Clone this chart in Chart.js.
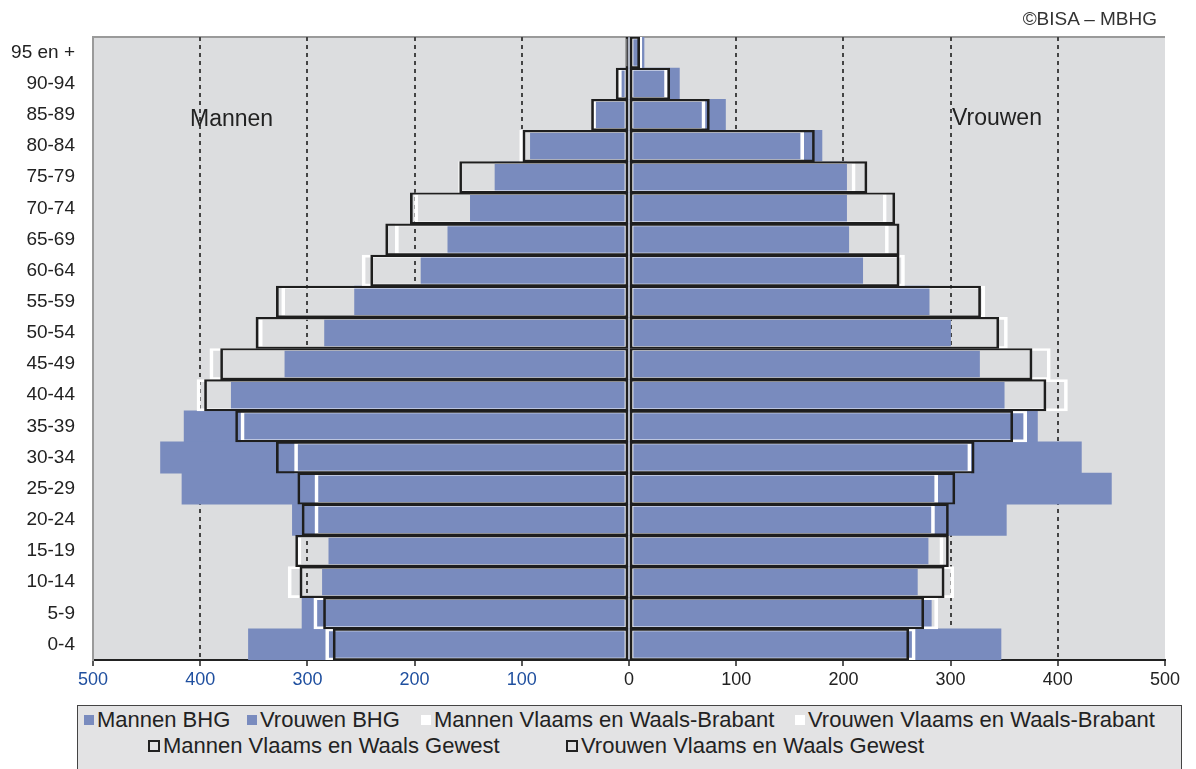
<!DOCTYPE html>
<html>
<head>
<meta charset="utf-8">
<title>Leeftijdspiramide</title>
<script src="https://cdn.jsdelivr.net/npm/chart.js@4.4.1/dist/chart.umd.min.js"></script>
<style>
  body { margin: 0; background: #fff; font-family: 'Liberation Sans', Arial, sans-serif; color: #222; }
  #wrap { position: relative; width: 1196px; height: 769px; overflow: hidden; }
  #chartBox { position: absolute; left: 0; top: 0; width: 1196px; height: 769px; }
  .note { position: absolute; white-space: nowrap; line-height: 1; }
  #legend { position: absolute; left: 77px; top: 705px; width: 1103px; height: 80px;
            border: 1px solid #444; background: #e3e3e4; }
  .item { position: absolute; display: flex; align-items: center; font-size: 22px;
          line-height: 22px; white-space: nowrap; color: #222; }
  .swatch { width: 10px; height: 10px; margin-right: 3px; box-sizing: border-box; }
</style>
</head>
<body>
<div id="wrap">
  <div id="chartBox"><canvas id="chart"></canvas></div>
  <div class="note" style="right:39px; top:9px; font-size:19px; color:#333;">©BISA – MBHG</div>
  <div class="note" style="left:190px; top:107px; font-size:23px;">Mannen</div>
  <div class="note" style="left:952px; top:106px; font-size:23px;">Vrouwen</div>
  <div id="legend"></div>
</div>

<script>
/////////////////////
//      Data       //
/////////////////////
const AGE_GROUPS = ['95 en +', '90-94', '85-89', '80-84', '75-79', '70-74', '65-69', '60-64',
  '55-59', '50-54', '45-49', '40-44', '35-39', '30-34', '25-29', '20-24', '15-19', '10-14', '5-9', '0-4'];

// Brussels Hoofdstedelijk Gewest (filled bars)
const MEN_BHG      = [1, 8, 32, 92, 125, 148, 169, 194, 256, 284, 321, 371, 415, 437, 417, 314, 280, 286, 305, 355];
const WOMEN_BHG    = [14, 47, 90, 180, 203, 203, 205, 218, 280, 300, 327, 350, 381, 422, 450, 352, 279, 269, 282, 347];
// Vlaams en Waals-Brabant (white outline)
const MEN_BRABANT   = [2, 10, 34, 102, 159, 200, 218, 249, 324, 345, 391, 403, 362, 312, 293, 293, 309, 318, 294, 283];
const WOMEN_BRABANT = [12, 36, 71, 163, 211, 240, 242, 257, 332, 353, 393, 409, 371, 319, 288, 285, 293, 303, 288, 267];
// Vlaams en Waals Gewest (black outline)
const MEN_GEWEST   = [3, 12, 35, 99, 158, 204, 227, 241, 329, 348, 381, 396, 367, 329, 309, 305, 311, 307, 285, 276];
const WOMEN_GEWEST = [10, 38, 75, 173, 222, 248, 252, 252, 328, 345, 376, 389, 358, 322, 304, 298, 298, 294, 275, 261];

const X_TICKS_DASHED = [100, 200, 300, 400];


/////////////////////
//    Constants    //
/////////////////////
const BLUE = '#798bbe';
const PLOT_BG = '#dcdddf';
const FONT = "'Liberation Sans', Arial, sans-serif";

Chart.defaults.font.family = FONT;
Chart.defaults.color = '#222';

const neg = (arr) => arr.map(v => -v);


////////////////////////////
//    Plot background     //
////////////////////////////
const plotBackground = {
  id: 'plotBackground',
  beforeDraw(chart) {
    const { ctx, chartArea: a } = chart;
    ctx.save();
    ctx.fillStyle = PLOT_BG;
    ctx.fillRect(a.left, a.top, a.right - a.left, a.bottom - a.top);
    ctx.strokeStyle = '#9a9a9a';
    ctx.lineWidth = 2;
    ctx.beginPath();
    ctx.moveTo(a.left, a.top);
    ctx.lineTo(a.right, a.top);
    ctx.stroke();
    ctx.restore();
  }
};


///////////////////////
//    Main Script    //
///////////////////////
const common = { grouped: false, categoryPercentage: 1.0, barPercentage: 1.0 };
const whiteBorder = { top: 2, bottom: 2, left: 3, right: 3 };
const blackBorder = { top: 1.5, bottom: 1.5, left: 2, right: 2 };

const datasets = [
  { ...common, label: 'Mannen BHG', data: neg(MEN_BHG), backgroundColor: BLUE, borderWidth: 0, order: 3 },
  { ...common, label: 'Vrouwen BHG', data: WOMEN_BHG, backgroundColor: BLUE, borderWidth: 0, order: 3 },
  { ...common, label: 'Mannen Vlaams en Waals-Brabant', data: neg(MEN_BRABANT), backgroundColor: 'rgba(0,0,0,0)',
    borderColor: '#ffffff', borderWidth: whiteBorder, borderSkipped: false, order: 2 },
  { ...common, label: 'Vrouwen Vlaams en Waals-Brabant', data: WOMEN_BRABANT, backgroundColor: 'rgba(0,0,0,0)',
    borderColor: '#ffffff', borderWidth: whiteBorder, borderSkipped: false, order: 2 },
  { ...common, label: 'Mannen Vlaams en Waals Gewest', data: neg(MEN_GEWEST), backgroundColor: 'rgba(0,0,0,0)',
    borderColor: '#1e1e1e', borderWidth: blackBorder, borderSkipped: false, order: 1 },
  { ...common, label: 'Vrouwen Vlaams en Waals Gewest', data: WOMEN_GEWEST, backgroundColor: 'rgba(0,0,0,0)',
    borderColor: '#1e1e1e', borderWidth: blackBorder, borderSkipped: false, order: 1 }
];

new Chart(document.getElementById('chart'), {
  type: 'bar',
  data: { labels: AGE_GROUPS, datasets },
  plugins: [plotBackground],
  options: {
    indexAxis: 'y',
    responsive: true,
    maintainAspectRatio: false,
    animation: false,
    layout: { padding: { top: 37, right: 31, bottom: 69, left: 0 } },
    plugins: { legend: { display: false }, tooltip: { enabled: false } },
    scales: {
      x: {
        min: -500,
        max: 500,
        ticks: {
          stepSize: 100,
          font: { size: 18 },
          padding: 3,
          color: (c) => (c.tick && c.tick.value < 0 ? '#1f4f9f' : '#222'),
          callback: (v) => Math.abs(v)
        },
        grid: {
          color: (c) => (c.tick && X_TICKS_DASHED.includes(Math.abs(c.tick.value)) ? '#444' : 'rgba(0,0,0,0)'),
          lineWidth: 2,
          tickColor: '#222',
          tickLength: 6,
          tickWidth: 1.5
        },
        border: { display: true, color: '#222', width: 2, dash: [4, 4] },
        afterFit: (s) => { s.height = 40; }
      },
      y: {
        grid: { display: false, drawTicks: false },
        border: { display: true, color: '#9a9a9a', width: 2 },
        ticks: { font: { size: 19 }, padding: 18, color: '#222' },
        afterFit: (s) => { s.width = 93; }
      }
    }
  }
});


////////////////////////////
//    Legend (HTML)       //
////////////////////////////
const LEGEND_ITEMS = [
  { text: 'Mannen BHG', swatch: 'fill', left: 6, top: 3 },
  { text: 'Vrouwen BHG', swatch: 'fill', left: 169, top: 3 },
  { text: 'Mannen Vlaams en Waals-Brabant', swatch: 'white', left: 343, top: 3 },
  { text: 'Vrouwen Vlaams en Waals-Brabant', swatch: 'white', left: 717, top: 3 },
  { text: 'Mannen Vlaams en Waals Gewest', swatch: 'outline', left: 70, top: 29 },
  { text: 'Vrouwen Vlaams en Waals Gewest', swatch: 'outline', left: 488, top: 29 }
];

const legend = document.getElementById('legend');
for (const it of LEGEND_ITEMS) {
  const item = document.createElement('div');
  item.className = 'item';
  item.style.left = it.left + 'px';
  item.style.top = it.top + 'px';
  const sw = document.createElement('span');
  sw.className = 'swatch';
  if (it.swatch === 'fill') {
    sw.style.background = BLUE;
  } else if (it.swatch === 'white') {
    sw.style.background = '#fff';
  } else {
    sw.style.width = '12px';
    sw.style.height = '12px';
    sw.style.border = '2px solid #222';
  }
  item.appendChild(sw);
  const label = document.createElement('span');
  label.textContent = it.text;
  item.appendChild(label);
  legend.appendChild(item);
}
</script>
</body>
</html>
